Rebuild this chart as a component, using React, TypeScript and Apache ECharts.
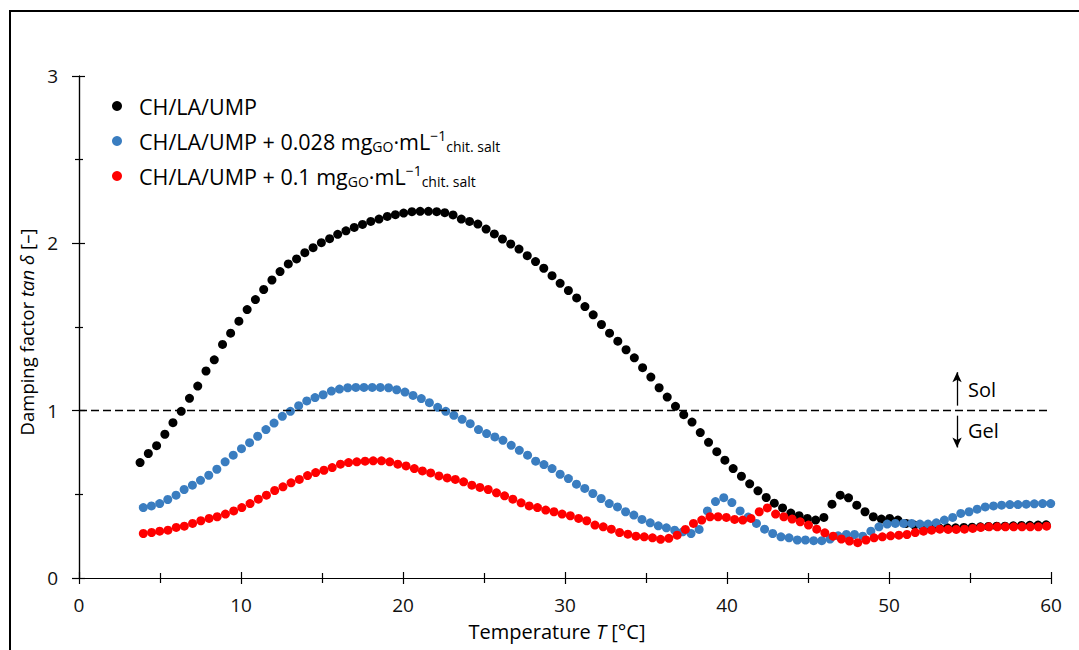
import React, { useEffect, useRef } from "react";
import * as echarts from "echarts";

// ---- Data ----
const SERIES_NAMES = [
  "CH/LA/UMP",
  "CH/LA/UMP + 0.028 mgGO·mL−1chit. salt",
  "CH/LA/UMP + 0.1 mgGO·mL−1chit. salt",
];

const T_BLACK = [
  3.77, 4.28, 4.79, 5.3, 5.8, 6.31, 6.82, 7.33, 7.84, 8.35, 8.86, 9.36, 9.87, 10.38, 10.89, 11.4, 11.91, 12.41, 12.92, 13.43,
  13.94, 14.45, 14.96, 15.47, 15.97, 16.48, 16.99, 17.5, 18.01, 18.52, 19.03, 19.53, 20.04, 20.55, 21.06, 21.57, 22.08, 22.58, 23.09, 23.6,
  24.11, 24.62, 25.13, 25.64, 26.14, 26.65, 27.16, 27.67, 28.18, 28.69, 29.2, 29.7, 30.21, 30.72, 31.23, 31.74, 32.25, 32.75, 33.26, 33.77,
  34.28, 34.79, 35.3, 35.81, 36.31, 36.82, 37.33, 37.84, 38.35, 38.86, 39.37, 39.87, 40.38, 40.89, 41.4, 41.91, 42.42, 42.92, 43.43, 43.94,
  44.45, 44.96, 45.47, 45.98, 46.48, 46.99, 47.5, 48.01, 48.52, 49.03, 49.53, 50.04, 50.55, 51.06, 51.57, 52.08, 52.59, 53.09, 53.6, 54.11,
  54.62, 55.13, 55.64, 56.14, 56.65, 57.16, 57.67, 58.18, 58.69, 59.2, 59.7,
];
const TAN_BLACK = [
  0.69, 0.744, 0.791, 0.859, 0.928, 0.996, 1.074, 1.147, 1.237, 1.304, 1.396, 1.463, 1.535, 1.604, 1.664, 1.724, 1.781, 1.831, 1.877, 1.907,
  1.944, 1.974, 2.004, 2.028, 2.054, 2.075, 2.095, 2.113, 2.131, 2.145, 2.161, 2.171, 2.181, 2.189, 2.191, 2.191, 2.189, 2.183, 2.17, 2.145,
  2.131, 2.115, 2.085, 2.056, 2.026, 1.996, 1.966, 1.926, 1.891, 1.851, 1.807, 1.761, 1.718, 1.674, 1.622, 1.573, 1.515, 1.463, 1.415, 1.364,
  1.316, 1.257, 1.201, 1.137, 1.081, 1.026, 0.976, 0.932, 0.869, 0.811, 0.755, 0.704, 0.654, 0.608, 0.563, 0.521, 0.481, 0.447, 0.419, 0.388,
  0.372, 0.356, 0.346, 0.362, 0.441, 0.495, 0.479, 0.435, 0.396, 0.366, 0.352, 0.356, 0.346, 0.326, 0.316, 0.31, 0.305, 0.3, 0.3, 0.3,
  0.302, 0.304, 0.306, 0.308, 0.31, 0.31, 0.312, 0.314, 0.315, 0.316, 0.318,
];

const T_BLUE = [
  3.97, 4.47, 4.98, 5.48, 5.99, 6.49, 7.0, 7.5, 8.01, 8.51, 9.02, 9.52, 10.03, 10.53, 11.03, 11.54, 12.04, 12.55, 13.05, 13.56,
  14.06, 14.57, 15.07, 15.58, 16.08, 16.59, 17.09, 17.59, 18.1, 18.6, 19.11, 19.61, 20.12, 20.62, 21.13, 21.63, 22.14, 22.64, 23.14, 23.65,
  24.15, 24.66, 25.16, 25.67, 26.17, 26.68, 27.18, 27.69, 28.19, 28.7, 29.2, 29.7, 30.21, 30.71, 31.22, 31.72, 32.23, 32.73, 33.24, 33.74,
  34.25, 34.75, 35.26, 35.76, 36.26, 36.77, 37.27, 37.78, 38.28, 38.79, 39.29, 39.8, 40.3, 40.81, 41.31, 41.82, 42.32, 42.82, 43.33, 43.83,
  44.34, 44.84, 45.35, 45.85, 46.36, 46.86, 47.37, 47.87, 48.38, 48.88, 49.38, 49.89, 50.39, 50.9, 51.4, 51.91, 52.41, 52.92, 53.42, 53.93,
  54.43, 54.94, 55.44, 55.94, 56.45, 56.95, 57.46, 57.96, 58.47, 58.97, 59.48, 59.98,
];
const TAN_BLUE = [
  0.421, 0.431, 0.445, 0.469, 0.495, 0.529, 0.555, 0.584, 0.614, 0.65, 0.694, 0.734, 0.773, 0.809, 0.847, 0.887, 0.926, 0.966, 0.996, 1.03,
  1.058, 1.078, 1.095, 1.117, 1.129, 1.137, 1.139, 1.139, 1.139, 1.139, 1.137, 1.125, 1.111, 1.091, 1.072, 1.048, 1.02, 0.996, 0.972, 0.948,
  0.922, 0.887, 0.863, 0.843, 0.823, 0.793, 0.763, 0.734, 0.698, 0.678, 0.654, 0.62, 0.594, 0.561, 0.535, 0.505, 0.475, 0.445, 0.425, 0.396,
  0.376, 0.35, 0.33, 0.312, 0.3, 0.286, 0.276, 0.266, 0.29, 0.401, 0.457, 0.48, 0.451, 0.401, 0.364, 0.326, 0.292, 0.266, 0.246, 0.24,
  0.227, 0.227, 0.223, 0.223, 0.233, 0.252, 0.26, 0.26, 0.25, 0.28, 0.306, 0.322, 0.326, 0.326, 0.326, 0.322, 0.322, 0.33, 0.346, 0.362,
  0.386, 0.396, 0.411, 0.425, 0.431, 0.435, 0.439, 0.439, 0.441, 0.443, 0.445, 0.445,
];

const T_RED = [
  3.97, 4.48, 4.98, 5.49, 6.0, 6.5, 7.01, 7.52, 8.03, 8.53, 9.04, 9.55, 10.05, 10.56, 11.07, 11.57, 12.08, 12.59, 13.09, 13.6,
  14.11, 14.61, 15.12, 15.63, 16.14, 16.64, 17.15, 17.66, 18.16, 18.67, 19.18, 19.68, 20.19, 20.7, 21.2, 21.71, 22.22, 22.73, 23.23, 23.74,
  24.25, 24.75, 25.26, 25.77, 26.27, 26.78, 27.29, 27.79, 28.3, 28.81, 29.32, 29.82, 30.33, 30.84, 31.34, 31.85, 32.36, 32.86, 33.37, 33.88,
  34.38, 34.89, 35.4, 35.9, 36.41, 36.92, 37.43, 37.93, 38.44, 38.95, 39.45, 39.96, 40.47, 40.97, 41.48, 41.99, 42.49, 43.0, 43.51, 44.02,
  44.52, 45.03, 45.54, 46.04, 46.55, 47.06, 47.56, 48.07, 48.58, 49.08, 49.59, 50.1, 50.61, 51.11, 51.62, 52.13, 52.63, 53.14, 53.65, 54.15,
  54.66, 55.17, 55.67, 56.18, 56.69, 57.19, 57.7, 58.21, 58.72, 59.22, 59.73,
];
const TAN_RED = [
  0.266, 0.272, 0.28, 0.286, 0.302, 0.31, 0.326, 0.342, 0.356, 0.366, 0.382, 0.401, 0.421, 0.445, 0.471, 0.495, 0.523, 0.545, 0.569, 0.589,
  0.612, 0.63, 0.644, 0.66, 0.68, 0.69, 0.694, 0.698, 0.7, 0.7, 0.694, 0.68, 0.67, 0.654, 0.64, 0.628, 0.61, 0.598, 0.589, 0.575,
  0.555, 0.541, 0.529, 0.509, 0.491, 0.471, 0.449, 0.431, 0.421, 0.406, 0.396, 0.382, 0.372, 0.356, 0.342, 0.316, 0.306, 0.292, 0.272, 0.262,
  0.25, 0.246, 0.24, 0.231, 0.237, 0.256, 0.29, 0.326, 0.346, 0.366, 0.366, 0.362, 0.35, 0.346, 0.356, 0.396, 0.419, 0.382, 0.366, 0.352,
  0.336, 0.316, 0.292, 0.27, 0.25, 0.233, 0.221, 0.211, 0.227, 0.24, 0.246, 0.252, 0.256, 0.26, 0.272, 0.28, 0.286, 0.292, 0.29, 0.29,
  0.292, 0.296, 0.302, 0.306, 0.306, 0.306, 0.306, 0.306, 0.306, 0.306, 0.31,
];

const X_MIN = 0;
const X_MAX = 60;
const X_INTERVAL = 10;
const Y_MIN = 0;
const Y_MAX = 3;
const Y_INTERVAL = 1;
const THRESHOLD = 1; // tan δ = 1 (sol/gel)
const ARROW_X = 54.2;
const SOL_ARROW = [1.03, 1.23];
const GEL_ARROW = [0.97, 0.78];

const COLORS = ["#000000", "#3a7dc0", "#ff0000"];
const FONT = "'Open Sans', 'Noto Sans', sans-serif";

const LEGEND_RICH_TEXT: Record<string, string> = {
  [SERIES_NAMES[0]]: "{m|CH/LA/UMP}",
  [SERIES_NAMES[1]]: "{m|CH/LA/UMP + 0.028 mg}{sub|GO}{m|·mL}{sup|−1}{sub|chit. salt}",
  [SERIES_NAMES[2]]: "{m|CH/LA/UMP + 0.1 mg}{sub|GO}{m|·mL}{sup|−1}{sub|chit. salt}",
};

function zip(xs: number[], ys: number[]) {
  return xs.map((x, i) => [x, ys[i]]);
}

export default function App() {
  const ref = useRef<HTMLDivElement>(null);

  useEffect(() => {
    if (!ref.current) return;
    const chart = echarts.init(ref.current, null, { renderer: "svg" });

    const axisLine = { show: true, lineStyle: { color: "#000", width: 1.2 } };
    const tickLabel = { color: "#111", fontSize: 19, fontFamily: FONT };

    const arrowLine = { type: "solid", color: "#000", width: 1.3 };
    const dashLine = { type: [8, 4], color: "#000", width: 1.4 };

    const option: any = {
      animation: false,
      backgroundColor: "#fff",
      grid: { left: 79, right: 28, top: 76, bottom: 72, containLabel: false },
      legend: {
        orient: "vertical",
        left: 112,
        top: 90,
        padding: 0,
        itemGap: 3,
        itemWidth: 34,
        itemHeight: 10,
        icon: "circle",
        selectedMode: false,
        data: SERIES_NAMES,
        formatter: (name: string) => LEGEND_RICH_TEXT[name] || name,
        textStyle: {
          color: "#000",
          fontSize: 21.5,
          lineHeight: 32,
          fontFamily: FONT,
          rich: {
            m: { fontSize: 21.5, lineHeight: 32, fontFamily: FONT, color: "#000" },
            sub: { fontSize: 14, lineHeight: 32, fontFamily: FONT, color: "#000", padding: [11, 0, 0, 0] },
            sup: { fontSize: 14, lineHeight: 32, fontFamily: FONT, color: "#000", padding: [0, 0, 11, 0] },
          },
        },
      },
      xAxis: [
        {
          type: "value",
          position: "bottom",
          min: X_MIN,
          max: X_MAX,
          interval: X_INTERVAL,
          axisLine,
          axisTick: { show: true, inside: false, length: 6, lineStyle: { color: "#000", width: 1.2 } },
          minorTick: { show: true, splitNumber: 2, length: 5, lineStyle: { color: "#000", width: 1.2 } },
          splitLine: { show: false },
          axisLabel: { ...tickLabel, margin: 17 },
          name: "{a|Temperature }{i|T}{a| [°C]}",
          nameLocation: "middle",
          nameGap: 43,
          nameTextStyle: {
            fontSize: 20,
            fontFamily: FONT,
            color: "#000",
            padding: [0, 16, 0, 0],
            rich: {
              a: { fontSize: 20, fontFamily: FONT, color: "#000" },
              i: { fontSize: 20, fontFamily: FONT, color: "#000", fontStyle: "italic" },
            },
          },
        },
        {
          type: "value",
          position: "top",
          min: X_MIN,
          max: X_MAX,
          interval: X_INTERVAL,
          axisLine,
          axisTick: { show: true, inside: false, length: 6, lineStyle: { color: "#000", width: 1.2 } },
          minorTick: { show: true, splitNumber: 2, length: 5, lineStyle: { color: "#000", width: 1.2 } },
          splitLine: { show: false },
          axisLabel: { show: false },
        },
      ],
      yAxis: [
        {
          type: "value",
          position: "left",
          min: Y_MIN,
          max: Y_MAX,
          interval: Y_INTERVAL,
          axisLine,
          axisTick: { show: true, inside: false, length: 7, lineStyle: { color: "#000", width: 1.2 } },
          minorTick: { show: true, splitNumber: 2, length: 4, lineStyle: { color: "#000", width: 1.2 } },
          splitLine: { show: false },
          axisLabel: { ...tickLabel, margin: 21 },
          name: "{a|Damping factor }{i|tan δ}{a| [–]}",
          nameLocation: "middle",
          nameGap: 33,
          nameTextStyle: {
            fontSize: 18.5,
            fontFamily: FONT,
            color: "#000",
            padding: [0, 10, 0, 0],
            rich: {
              a: { fontSize: 18.5, fontFamily: FONT, color: "#000" },
              i: { fontSize: 18.5, fontFamily: FONT, color: "#000", fontStyle: "italic" },
            },
          },
        },
        {
          type: "value",
          position: "right",
          min: Y_MIN,
          max: Y_MAX,
          interval: Y_INTERVAL,
          axisLine,
          axisTick: { show: true, inside: false, length: 6, lineStyle: { color: "#000", width: 1.2 } },
          minorTick: { show: true, splitNumber: 2, length: 4, lineStyle: { color: "#000", width: 1.2 } },
          splitLine: { show: false },
          axisLabel: { show: false },
        },
      ],
      series: [
        {
          name: SERIES_NAMES[0],
          type: "scatter",
          xAxisIndex: 0,
          yAxisIndex: 0,
          symbol: "circle",
          symbolSize: 9,
          itemStyle: { color: COLORS[0], opacity: 1 },
          data: zip(T_BLACK, TAN_BLACK),
          z: 3,
          markLine: {
            silent: true,
            animation: false,
            symbol: ["none", "none"],
            label: { show: false },
            emphasis: { disabled: true },
            data: [
              [
                { coord: [X_MIN, THRESHOLD], symbol: "none", lineStyle: dashLine },
                { coord: [X_MAX, THRESHOLD], symbol: "none", lineStyle: dashLine },
              ],
              [
                { coord: [ARROW_X, SOL_ARROW[0]], symbol: "none", lineStyle: arrowLine },
                { coord: [ARROW_X, SOL_ARROW[1]], symbol: "arrow", symbolSize: [7, 10], lineStyle: arrowLine },
              ],
              [
                { coord: [ARROW_X, GEL_ARROW[0]], symbol: "none", lineStyle: arrowLine },
                { coord: [ARROW_X, GEL_ARROW[1]], symbol: "arrow", symbolSize: [7, 10], lineStyle: arrowLine },
              ],
            ],
          },
        },
        {
          name: SERIES_NAMES[1],
          type: "scatter",
          symbol: "circle",
          symbolSize: 9,
          itemStyle: { color: COLORS[1], opacity: 1 },
          data: zip(T_BLUE, TAN_BLUE),
          z: 4,
        },
        {
          name: SERIES_NAMES[2],
          type: "scatter",
          symbol: "circle",
          symbolSize: 9,
          itemStyle: { color: COLORS[2], opacity: 1 },
          data: zip(T_RED, TAN_RED),
          z: 5,
        },
      ],
      graphic: [
        {
          type: "rect",
          silent: true,
          z: 0,
          shape: { x: 10, y: 11, width: 1200, height: 800 },
          style: { fill: "none", stroke: "#000", lineWidth: 2 },
        },
        {
          type: "text",
          silent: true,
          x: 968,
          y: 389,
          style: { text: "Sol", fill: "#000", fontSize: 20, fontFamily: FONT, verticalAlign: "middle", align: "left" },
        },
        {
          type: "text",
          silent: true,
          x: 968,
          y: 430,
          style: { text: "Gel", fill: "#000", fontSize: 20, fontFamily: FONT, verticalAlign: "middle", align: "left" },
        },
      ],
    };

    chart.setOption(option);
    return () => chart.dispose();
  }, []);

  return (
    <div
      ref={ref}
      style={{ position: "fixed", left: 0, top: 0, width: 1079, height: 650, background: "#fff" }}
    />
  );
}
